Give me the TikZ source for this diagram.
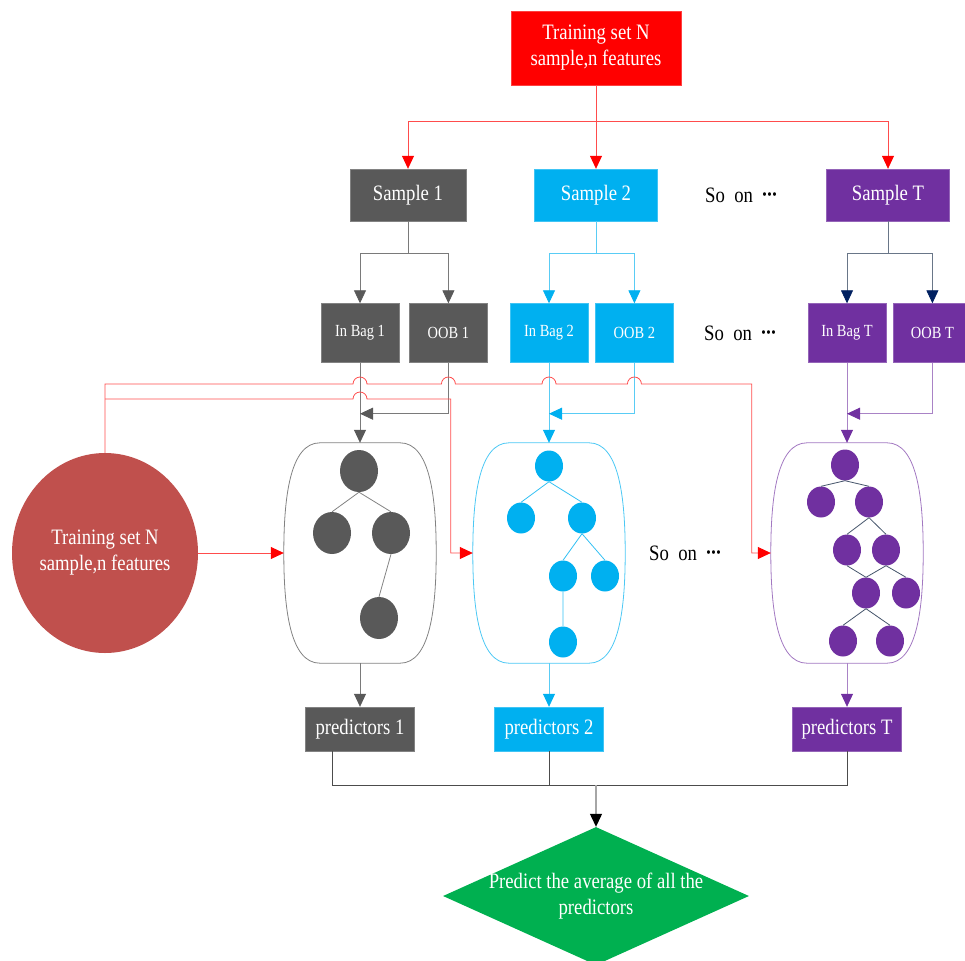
\documentclass[tikz,border=0pt]{standalone}
\usepackage{fontspec}
\setmainfont{Liberation Serif}[FakeStretch=0.85]
\usepackage{tikz}
\usetikzlibrary{arrows.meta,positioning,shapes.geometric,calc}
\definecolor{BagGray}{HTML}{595959}
\definecolor{BagCyan}{HTML}{00B0F0}
\definecolor{BagPurple}{HTML}{7030A0}
\definecolor{BagRed}{HTML}{FF0000}
\definecolor{BagBrick}{HTML}{C0504D}
\definecolor{BagGreen}{HTML}{00B050}
\definecolor{BagNavy}{HTML}{002060}
\definecolor{BagSlate}{HTML}{44546A}

% barrel outline drawn round the (invisible) container node #1
\newcommand{\barrel}[2]{\draw[line width=0.8pt, draw=#2] ([xshift=-40pt]#1.north) -- ([xshift=40pt]#1.north) .. controls ([xshift=-6pt]#1.north east) and ([yshift=55pt]#1.east) .. (#1.east) .. controls ([yshift=-55pt]#1.east) and ([xshift=-6pt]#1.south east) .. ([xshift=40pt]#1.south) -- ([xshift=-40pt]#1.south) .. controls ([xshift=6pt]#1.south west) and ([yshift=-55pt]#1.west) .. (#1.west) .. controls ([yshift=55pt]#1.west) and ([xshift=6pt]#1.north west) .. cycle;}
\newcommand{\sodots}{\raisebox{3pt}{\fontsize{15}{15}\selectfont\textbullet\kern0.5pt\textbullet\kern0.5pt\textbullet}}

\begin{document}
\begin{tikzpicture}[x=1pt, y=-1pt, every node/.style={font=\fontsize{22}{26}\selectfont}, box/.style={fill=#1, draw=#1!75!white, text=white, align=center, inner sep=0pt}, bag/.style={box=#1, minimum width=78pt, minimum height=59pt, font=\fontsize{17}{20}\selectfont}, tbox/.style={minimum width=152pt, minimum height=220pt, inner sep=0pt}, leaf/.style={ellipse, fill=#1, inner sep=0pt}, big/.style={minimum width=38pt, minimum height=42pt}, small/.style={minimum width=28pt, minimum height=31pt}, arrow/.style 2 args={line width=0.8pt, draw=#1, -{Triangle[length=13pt, width=12pt, color=#2]}}]
\useasboundingbox (0,0) rectangle (965,960);
% top row
\node[box=BagRed, minimum width=170pt, minimum height=74pt] (train) at (596,48) {Training set N\\sample,n features};
\node[box=BagGray, minimum width=116pt, minimum height=52pt] (s1) at (408,195) {Sample 1};
\node[box=BagCyan, minimum width=123pt, minimum height=52pt] (s2) at (596,195) {Sample 2};
\node (so1) at (741,195) {So\ \ on\ \ \sodots};
\node[box=BagPurple, minimum width=123pt, minimum height=52pt] (sT) at (888,195) {Sample T};
% bags
\node[bag=BagGray] (ib1) at (360,333) {In Bag 1};
\node[bag=BagGray] (oob1) [right=10pt of ib1] {OOB 1};
\node[bag=BagCyan] (ib2) at (549,333) {In Bag 2};
\node[bag=BagCyan] (oob2) [right=7pt of ib2] {OOB 2};
\node (so2) at (740,333) {So\ \ on\ \ \sodots};
\node[bag=BagPurple] (ibT) at (847,333) {In Bag T};
\node[bag=BagPurple] (oobT) [right=7pt of ibT] {OOB T};
% trees
\node[tbox] (t1) at (360,553) {};
\node[tbox] (t2) at (549,553) {};
\node[tbox] (t3) at (847,553) {};
\barrel{t1}{BagGray!75}
\barrel{t2}{BagCyan!70}
\barrel{t3}{BagPurple!65}
\node (so3) at (685,553) {So\ \ on\ \ \sodots};
\node[leaf=BagGray, big] (g0) at (359,471) {};
\node[leaf=BagGray, big] (g1) at (332,533) {};
\node[leaf=BagGray, big] (g2) at (391,533) {};
\node[leaf=BagGray, big] (g3) at (379,618) {};
\draw[line width=0.8pt, BagGray!75] (g0.south)--(g1.north) (g0.south)--(g2.north) (g2.south)--(g3.north);
\node[leaf=BagCyan, small] (c0) at (549,466) {};
\node[leaf=BagCyan, small] (c1) at (521,518) {};
\node[leaf=BagCyan, small] (c2) at (582,518) {};
\node[leaf=BagCyan, small] (c3) at (563,576) {};
\node[leaf=BagCyan, small] (c4) at (605,576) {};
\node[leaf=BagCyan, small] (c5) at (563,642) {};
\draw[line width=0.8pt, BagCyan!80] (c0.south)--(c1.north) (c0.south)--(c2.north) (c2.south)--(c3.north) (c2.south)--(c4.north) (c3.south)--(c5.north);
\node[leaf=BagPurple, small] (p0) at (845,465) {};
\node[leaf=BagPurple, small] (p1) at (821,502) {};
\node[leaf=BagPurple, small] (p2) at (869,502) {};
\node[leaf=BagPurple, small] (p3) at (847,550) {};
\node[leaf=BagPurple, small] (p4) at (886,550) {};
\node[leaf=BagPurple, small] (p5) at (866,593) {};
\node[leaf=BagPurple, small] (p6) at (906,593) {};
\node[leaf=BagPurple, small] (p7) at (843,641) {};
\node[leaf=BagPurple, small] (p8) at (890,641) {};
\draw[line width=0.8pt, BagSlate] (p0.south)--(p1.north) (p0.south)--(p2.north) (p2.south)--(p3.north) (p2.south)--(p4.north) (p3.south)--(p5.north) (p4.south)--(p5.north) (p4.south)--(p6.north) (p5.south)--(p7.north) (p5.south)--(p8.north);
\node[ellipse, fill=BagBrick, text=white, align=center, inner sep=0pt, minimum width=186pt, minimum height=200pt] (ell) at (105,553) {Training set N\\sample,n features};
% predictors
\node[box=BagGray, minimum width=109pt, minimum height=44pt] (pr1) at (360,729) {predictors 1};
\node[box=BagCyan, minimum width=109pt, minimum height=44pt] (pr2) at (549,729) {predictors 2};
\node[box=BagPurple, minimum width=109pt, minimum height=44pt] (prT) at (847,729) {predictors T};
\node[diamond, fill=BagGreen, inner sep=0pt, minimum width=306pt, minimum height=138pt] (avg) at (596,896) {};
\node[text=white, align=center] (avgtxt) at (avg.center) {Predict the average of all the\\predictors};
% connectors
\coordinate (split0) at (596,121);
\coordinate (split1) at ($(s1.south)+(0,32)$);
\coordinate (split2) at ($(s2.south)+(0,32)$);
\coordinate (splitT) at ($(sT.south)+(0,32)$);
\coordinate (m1) at ($(ib1.south)+(0,51)$);
\coordinate (m2) at ($(ib2.south)+(0,51)$);
\coordinate (mT) at ($(ibT.south)+(0,51)$);
\coordinate (busA) at (105,384);
\coordinate (busB) at (105,399);
\coordinate (join) at (596,785);
\draw[arrow={BagRed!70}{BagRed}] (train) -- (split0) -| (s1); \draw[arrow={BagRed!70}{BagRed}] (split0) -- (s2); \draw[arrow={BagRed!70}{BagRed}] (split0) -| (sT);
\draw[arrow={BagGray!80}{BagGray}] (s1) -- (split1) -| (ib1); \draw[arrow={BagGray!80}{BagGray}] (split1) -| (oob1);
\draw[arrow={BagCyan!65}{BagCyan}] (s2) -- (split2) -| (ib2); \draw[arrow={BagCyan!65}{BagCyan}] (split2) -| (oob2);
\draw[arrow={BagSlate!80}{BagNavy}] (sT) -- (splitT) -| (ibT); \draw[arrow={BagSlate!80}{BagNavy}] (splitT) -| (oobT);
\draw[arrow={BagGray!80}{BagGray}] (ib1) -- (t1); \draw[arrow={BagGray!80}{BagGray}] (oob1) |- (m1);
\draw[arrow={BagCyan!65}{BagCyan}] (ib2) -- (t2); \draw[arrow={BagCyan!65}{BagCyan}] (oob2) |- (m2);
\draw[arrow={BagPurple!60}{BagPurple}] (ibT) -- (t3); \draw[arrow={BagPurple!60}{BagPurple}] (oobT) |- (mT);
\draw[arrow={BagRed!70}{BagRed}] (ell) -- (t1);
\draw[arrow={BagRed!70}{BagRed}] (ell.north) -- (busA) -- ([xshift=-7pt]ib1.south |- busA) arc[start angle=180, end angle=0, radius=7pt] -- ([xshift=-7pt]oob1.south |- busA) arc[start angle=180, end angle=0, radius=7pt] -- ([xshift=-7pt]ib2.south |- busA) arc[start angle=180, end angle=0, radius=7pt] -- ([xshift=-7pt]oob2.south |- busA) arc[start angle=180, end angle=0, radius=7pt] -- ([xshift=-19pt]t3.west |- busA) |- (t3);
\draw[arrow={BagRed!70}{BagRed}] (busB) -- ([xshift=-7pt]ib1.south |- busB) arc[start angle=180, end angle=0, radius=7pt] -- ([xshift=-22pt]t2.west |- busB) |- (t2);
\draw[arrow={BagGray!80}{BagGray}] (t1) -- (pr1); \draw[arrow={BagCyan!65}{BagCyan}] (t2) -- (pr2); \draw[arrow={BagPurple!60}{BagPurple}] (t3) -- (prT);
\draw[line width=0.8pt, black!70] ([xshift=-28pt]pr1.south) |- (join) -| (prT); \draw[line width=0.8pt, black!70] (pr2) -- (pr2 |- join);
\draw[arrow={black!35}{black}, line width=1.2pt] (join) -- (avg);
\end{tikzpicture}
\end{document}
